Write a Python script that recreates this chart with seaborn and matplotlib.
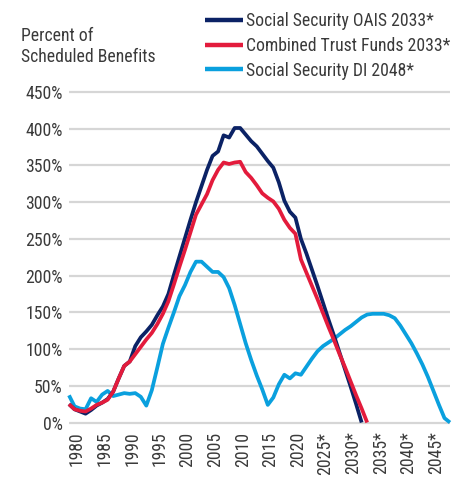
import matplotlib
matplotlib.use("Agg")
import matplotlib.pyplot as plt
import matplotlib.transforms as mtransforms
from matplotlib import font_manager as fm
import seaborn as sns
import pandas as pd

# ---- data ----
oasi_start = 1979
oasi_values = [25, 18, 15, 12, 17, 23, 27, 32, 42, 60, 77, 83, 104, 116, 124, 133, 146, 158,
               175, 201, 226, 251, 276, 300, 322, 344, 363, 369, 391, 388, 401, 401, 392, 383,
               376, 366, 356, 347, 327, 302, 287, 279, 250, 230, 208, 186, 163, 140, 118, 95,
               72, 49, 25, 0]
combined_start = 1979
combined_values = [25, 18, 16, 15, 19, 24, 27, 31, 42, 60, 77, 83, 93, 103, 113, 122, 134, 148,
                   165, 188, 212, 235, 259, 283, 297, 311, 330, 344, 354, 352, 354, 355, 341,
                   333, 323, 312, 306, 301, 291, 276, 265, 257, 222, 204, 186, 168, 149, 130,
                   112, 93, 75, 56, 37, 19, 0]
di_start = 1979
di_values = [37, 22, 19, 18, 33, 28, 38, 43, 36, 38, 40, 39, 40, 35, 23, 44, 75, 107, 129, 150,
             172, 187, 205, 219, 219, 212, 205, 205, 198, 183, 160, 134, 108, 85, 64, 45, 24,
             34, 52, 65, 60, 67, 65, 76, 87, 97, 104, 109, 114, 120, 126, 131, 137, 143, 147,
             148, 148, 148, 146, 142, 132, 120, 108, 94, 79, 62, 43, 24, 6, 0]

labels = ["Social Security OAIS 2033*", "Combined Trust Funds 2033*", "Social Security DI 2048*"]
colors = ["#0B2265", "#E31B3C", "#0AA0DE"]
tick_years = [1980, 1985, 1990, 1995, 2000, 2005, 2010, 2015, 2020, 2025, 2030, 2035, 2040, 2045]
tick_labels = ["1980", "1985", "1990", "1995", "2000", "2005", "2010", "2015", "2020",
               "2025*", "2030*", "2035*", "2040*", "2045*"]
y_ticks = [0, 50, 100, 150, 200, 250, 300, 350, 400, 450]
y_title = "Percent of\nScheduled Benefits"

def frame(start, vals, name):
    return pd.DataFrame({"year": list(range(start, start + len(vals))), "value": vals, "series": name})

df = pd.concat([frame(oasi_start, oasi_values, labels[0]),
                frame(combined_start, combined_values, labels[1]),
                frame(di_start, di_values, labels[2])], ignore_index=True)

# ---- style ----
sns.set_style("white")

# pick a narrow font if one is installed
chosen = None
stretch = "normal"
prefs = ["Liberation Sans Narrow", "Roboto Condensed", "Open Sans Condensed", "Noto Sans Condensed",
         "DejaVu Sans Condensed"]
names = {f.name for f in fm.fontManager.ttflist}
for p in prefs:
    if p in names:
        chosen = p
        break
if chosen is None:
    for f in fm.fontManager.ttflist:
        if f.name == "DejaVu Sans" and str(f.stretch) in ("condensed", "semi-condensed") and f.weight in (400, "normal"):
            chosen = "DejaVu Sans"
            stretch = "condensed"
            break
if chosen is None:
    chosen = "Liberation Sans"
plt.rcParams["font.family"] = [chosen, "Liberation Sans", "DejaVu Sans"]
plt.rcParams["font.stretch"] = stretch
text_color = "#3a3a3a"

W, H = 466, 483
fig = plt.figure(figsize=(W / 100, H / 100), dpi=100)
renderer = fig.canvas.get_renderer()
probe = fig.text(0, 0, "Scheduled Benefits", fontsize=10)
pw = probe.get_window_extent(renderer).width
probe.remove()
FS = min(13.8, 10 * 133.0 / pw)

ppu = 330.5 / 450.0
ylo, yhi = -3, 453
bottom_px = 422.5 + (0 - ylo) * ppu
height_px = (yhi - ylo) * ppu
ax = fig.add_axes([69 / W, 1 - bottom_px / H, (450 - 69) / W, height_px / H])

order = [2, 0, 1]  # draw DI first, combined on top
handles = {}
for i in order:
    sub = df[df["series"] == labels[i]]
    sns.lineplot(data=sub, x="year", y="value", ax=ax, color=colors[i], linewidth=2.7,
                 label=labels[i], legend=False, clip_on=False, solid_capstyle="butt",
                 solid_joinstyle="round")
    handles[i] = ax.lines[-1]

ax.set_xlim(1979, 2048)
ax.set_ylim(ylo, yhi)
ax.set_yticks(y_ticks)
ax.set_yticklabels([f"{v}%" for v in y_ticks])
ax.set_xticks(tick_years)
ax.set_xticklabels(tick_labels, rotation=90)
ax.set_xlabel("")
ax.set_ylabel("")
ax.grid(axis="y", color="#d6d6d6", linewidth=1.6)
ax.grid(axis="x", visible=False)
ax.set_axisbelow(True)
for s in ax.spines.values():
    s.set_visible(False)
ax.tick_params(axis="both", length=0, labelsize=FS, colors=text_color)
ax.tick_params(axis="y", pad=4.5)
ax.tick_params(axis="x", pad=5)
offset = mtransforms.ScaledTranslation(2.5 / 100, 0, fig.dpi_scale_trans)
for lab in ax.get_xticklabels():
    lab.set_transform(lab.get_transform() + offset)

fig.text(21 / W, 1 - 27 / H, y_title, ha="left", va="top", fontsize=FS, color=text_color,
         linespacing=1.22)

leg = fig.legend([handles[0], handles[1], handles[2]], labels, loc="upper left",
                 bbox_to_anchor=(205 / W, 1 - 12 / H), frameon=False, fontsize=FS,
                 handlelength=2.0 * 13.5 / FS, handletextpad=0.2, labelspacing=0.36 * 13.5 / FS,
                 borderpad=0, borderaxespad=0)
for t in leg.get_texts():
    t.set_color(text_color)
for l in leg.get_lines():
    l.set_linewidth(3.2)

fig.savefig("out.png", dpi=100)
